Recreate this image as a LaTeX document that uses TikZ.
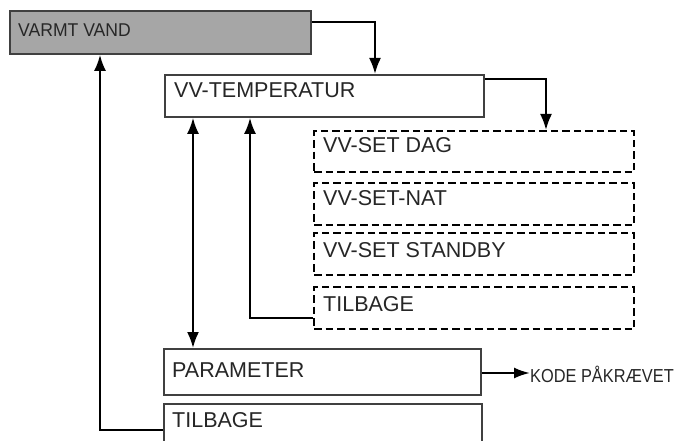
\documentclass[tikz,border=0pt]{standalone}
\usepackage{fontspec}
\setmainfont{Liberation Sans}
\newfontfamily\condf[FakeStretch=0.87]{Liberation Sans}
\newfontfamily\condg[FakeStretch=0.95]{Liberation Sans}
\usetikzlibrary{arrows.meta}
\begin{document}
\begin{tikzpicture}[x=1pt,y=-1pt,
  solidbox/.style={draw=black!75, line width=1.8pt, rectangle, inner sep=0pt, anchor=north west},
  dashbox/.style={draw=black, line width=2.3pt, dash pattern=on 7.5pt off 4pt, rectangle, inner sep=0pt, anchor=north west},
  lbl/.style={anchor=base west, inner sep=0pt, font=\fontsize{21.5}{25}\selectfont, text=black!85},
  clbl/.style={anchor=base west, inner sep=0pt, text=black!85},
  conn/.style={line width=2.2pt, -{Latex[length=16pt,width=12pt]}},
  dconn/.style={line width=2.2pt, {Latex[length=16pt,width=12pt]}-{Latex[length=16pt,width=12pt]}}
]
\useasboundingbox (0,0) rectangle (678,441);
% boxes
\node[solidbox, fill=black!35, minimum width=301pt, minimum height=43pt] (vv) at (9,10) {};
\node[solidbox, fill=white, minimum width=319pt, minimum height=42pt] (temp) at (164,74) {};
\node[dashbox, minimum width=320pt, minimum height=41pt] (dag) at (313,130) {};
\node[dashbox, minimum width=320pt, minimum height=42pt] (nat) at (313,182) {};
\node[dashbox, minimum width=320pt, minimum height=42pt] (stb) at (313,232) {};
\node[dashbox, minimum width=320pt, minimum height=42pt] (til1) at (313,286) {};
\node[solidbox, fill=white, minimum width=317pt, minimum height=46pt] (par) at (163,348) {};
\node[solidbox, fill=white, minimum width=318pt, minimum height=50pt] (til2) at (163,403) {};
% labels
\node[clbl, font=\condg\fontsize{18.5}{22}\selectfont] (tvv) at (18,37) {VARMT VAND};
\node[lbl] (ttemp) at (174,98) {VV-TEMPERATUR};
\node[lbl] (tdag) at (323,153) {VV-SET DAG};
\node[lbl] (tnat) at (323,206) {VV-SET-NAT};
\node[lbl] (tstb) at (323,257) {VV-SET STANDBY};
\node[lbl] (ttil1) at (323,311) {TILBAGE};
\node[lbl] (tpar) at (172,377) {PARAMETER};
\node[lbl] (ttil2) at (172,427) {TILBAGE};
\node[clbl, font=\condf\fontsize{18.8}{22}\selectfont] (kode) at (530,382) {KODE PÅKRÆVET};
% connectors
\draw[conn] (vv.east |- 0,22) -| (temp.north -| 375,0);
\draw[conn] (temp.east |- 0,79) -| (dag.north -| 546,0);
\draw[dconn] (temp.south -| 193,0) -- (par.north -| 193,0);
\draw[conn] (til1.west |- 0,318) -| (temp.south -| 250,0);
\draw[line width=2.2pt, -{Latex[length=16pt,width=11pt]}] (par.east |- 0,373) -- (kode.west |- 0,373);
\draw[conn] (til2.west |- 0,430) -| (vv.south -| 100,0);
\end{tikzpicture}
\end{document}
